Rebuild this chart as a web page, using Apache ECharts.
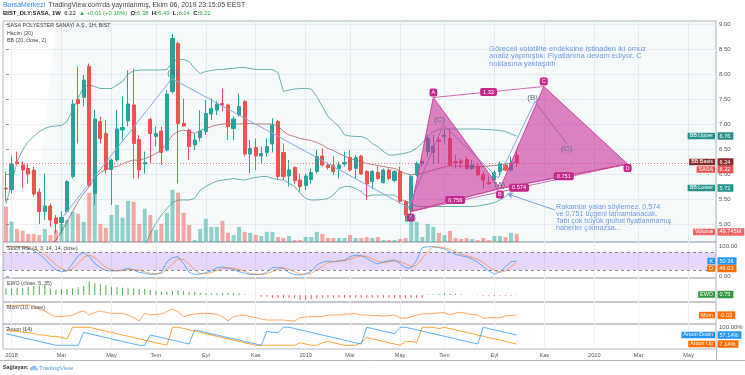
<!DOCTYPE html>
<html><head><meta charset="utf-8">
<script src="https://cdn.jsdelivr.net/npm/echarts@6/dist/echarts.min.js"></script>
<style>html,body{margin:0;padding:0;background:#fff}#c{width:745px;height:375px}</style>
</head><body><div id="c"></div><script>
// ---------------- DATA ----------------
const startDate = [2017, 11, 25]; // week of first candle (Monday)
const monthNames = ['Oca','Şub','Mar','Nis','May','Haz','Tem','Ağu','Eyl','Eki','Kas','Ara'];
const priceTicks = [5.0,5.5,6.0,6.5,7.0,7.5,8.0,8.5,9.0];

const opens = [5.72,5.69,6.24,6.18,6.11,6.08,5.64,5.25,5.36,5.12,
 5.03,5.25,5.95,7.49,7.53,8.15,5.61,7.05,6.81,6.09,
 6.28,6.88,7.06,7.38,6.69,6.20,7.09,6.75,6.86,6.48,
 7.65,8.61,7.01,6.88,6.58,6.73,6.85,7.20,7.28,7.41,
 7.38,6.91,7.18,7.45,6.40,6.53,6.36,6.43,6.60,7.05,
 6.43,5.96,6.13,5.88,5.77,5.89,6.05,6.36,6.18,6.18,
 6.11,6.20,6.33,6.11,6.36,6.05,5.85,6.03,5.83,6.08,
 5.87,6.05,5.45,5.28,5.98,6.21,6.45,6.43,6.68,6.75,
 6.71,6.25,6.26,6.29,6.11,6.15,5.99,5.83,5.88,6.05,
 6.18,6.08,6.38];
const highs = [6.05,6.36,6.45,6.25,6.20,6.15,5.71,6.01,5.41,5.18,
 5.25,5.88,7.48,8.15,7.98,8.21,7.28,7.15,7.08,6.31,
 7.28,7.55,8.08,8.11,6.78,6.45,7.13,6.95,6.95,7.68,
 8.80,8.65,7.51,6.91,6.81,7.28,7.48,7.51,7.45,7.71,
 7.41,7.15,7.61,7.48,6.68,6.71,6.55,6.71,7.11,7.08,
 6.61,6.28,6.15,6.01,6.01,6.11,6.48,6.51,6.23,6.36,
 6.25,6.45,6.48,6.38,6.38,6.08,6.08,6.15,6.11,6.11,
 6.08,6.15,5.48,5.98,6.25,6.31,6.78,6.78,6.75,6.88,
 6.91,6.38,6.30,6.35,6.28,6.21,6.05,5.95,6.08,6.25,
 6.21,6.35,6.49];
const lows = [5.45,5.61,6.18,5.71,5.81,5.55,5.00,5.08,4.95,4.81,
 4.81,5.21,5.91,6.61,7.35,5.75,5.38,6.61,6.01,5.38,
 6.25,6.68,6.95,5.91,5.91,6.01,6.21,6.55,6.18,6.45,
 7.61,5.81,6.95,6.28,6.48,6.65,6.78,7.08,7.18,7.25,
 6.68,6.68,7.15,6.35,6.01,6.08,6.21,6.35,6.43,5.88,
 5.88,5.75,5.81,5.65,5.68,5.81,6.01,6.15,6.09,5.98,
 5.91,6.15,6.05,5.91,5.98,5.48,5.71,5.88,5.81,5.88,
 5.83,5.41,5.05,5.21,5.95,6.15,6.35,6.21,6.21,6.61,
 6.15,6.11,6.11,6.08,6.08,5.95,5.71,5.78,5.81,5.95,
 6.05,6.05,6.14];
const closes = [5.70,6.20,6.21,6.08,6.00,5.60,5.25,5.36,5.08,5.01,
 5.13,5.85,7.40,7.41,7.88,5.77,7.10,6.71,6.09,6.28,
 6.90,6.93,7.40,6.61,6.08,6.23,6.81,6.81,6.43,7.60,
 8.71,7.01,6.96,6.55,6.68,6.86,7.21,7.31,7.40,7.38,
 6.95,7.10,7.35,6.40,6.51,6.36,6.41,6.55,6.98,5.95,
 5.95,6.08,5.87,5.75,5.96,6.03,6.35,6.18,6.13,6.05,
 6.18,6.23,6.08,6.33,6.00,5.80,6.05,5.91,6.08,5.91,
 6.05,5.45,5.18,5.95,6.21,6.25,6.71,6.55,6.65,6.78,
 6.18,6.23,6.23,6.11,6.18,5.98,5.88,5.80,6.03,6.20,
 6.08,6.21,6.22];
const volumes = [219,126,81,70,50,50,43,81,43,74,
 112,136,186,174,124,304,304,112,87,167,
 229,149,254,248,112,205,167,74,112,180,
 322,304,180,105,12,81,143,93,93,130,
 56,43,93,62,56,43,37,62,62,31,
 25,37,12,12,31,31,62,50,25,25,
 25,25,43,25,25,31,25,31,12,12,
 12,19,25,136,124,31,112,93,56,43,
 68,25,19,25,19,12,25,12,37,37,
 31,56,49.745];
const bbUpper = [5.40,5.81,6.25,6.48,6.65,6.75,6.85,6.91,6.95,6.96,
 6.97,7.05,7.28,7.51,7.75,7.78,7.75,7.71,7.71,7.71,
 7.78,7.85,8.00,8.06,8.08,8.08,8.08,8.08,8.08,8.09,
 8.25,8.29,8.29,8.25,8.11,8.01,8.05,8.07,8.09,8.09,
 8.11,8.11,8.13,8.13,8.11,8.09,8.09,8.09,8.09,8.03,
 7.65,7.68,7.70,7.71,7.71,7.70,7.55,7.35,7.15,7.05,
 6.95,6.78,6.76,6.75,6.75,6.71,6.61,6.55,6.45,6.38,
 6.38,6.40,6.42,6.45,6.52,6.62,6.75,6.85,6.89,6.90,
 6.90,6.90,6.90,6.90,6.90,6.90,6.89,6.89,6.88,6.87,
 6.85,6.80,6.76];
const bbBasis = [3.60,3.75,3.90,4.05,4.20,4.30,4.40,4.50,4.58,4.68,
 4.85,5.05,5.25,5.45,5.61,5.75,5.91,6.03,6.09,6.13,
 6.15,6.20,6.25,6.28,6.27,6.31,6.35,6.41,6.48,6.61,
 6.78,6.85,6.88,6.85,6.81,6.87,6.91,6.95,6.98,7.00,
 7.01,7.00,7.00,7.01,7.01,7.00,7.00,7.00,7.00,6.96,
 6.85,6.78,6.75,6.71,6.69,6.67,6.63,6.58,6.51,6.47,
 6.41,6.36,6.31,6.28,6.25,6.21,6.19,6.17,6.15,6.13,
 6.11,6.06,6.01,5.98,6.00,6.01,6.05,6.08,6.11,6.14,
 6.16,6.16,6.16,6.15,6.15,6.15,6.15,6.16,6.17,6.18,
 6.20,6.22,6.24];
const bbLower = [1.80,1.69,1.55,1.62,1.75,1.85,1.95,2.09,2.21,2.40,
 2.73,3.05,3.22,3.39,3.47,3.72,4.07,4.35,4.47,4.55,
 4.52,4.55,4.50,4.50,4.46,4.54,4.81,5.01,5.18,5.31,
 5.43,5.48,5.48,5.48,5.51,5.68,5.75,5.81,5.86,5.88,
 5.89,5.91,5.89,5.88,5.91,5.93,5.95,5.95,5.91,5.89,
 5.88,5.81,5.75,5.61,5.51,5.48,5.48,5.49,5.51,5.58,
 5.71,5.75,5.75,5.71,5.65,5.55,5.58,5.58,5.58,5.58,
 5.58,5.50,5.45,5.40,5.36,5.35,5.35,5.35,5.35,5.35,
 5.35,5.35,5.35,5.35,5.35,5.36,5.38,5.40,5.43,5.48,
 5.55,5.64,5.72];
const stochK = [100,100,100,98,93,87,73,58,37,20,
 14,17,42,68,80,65,42,28,18,17,
 17,20,26,20,12,9,5,6,12,48,
 62,65,42,12,5,6,11,17,28,30,
 26,22,14,9,5,5,5,12,28,29,
 26,11,5,3,8,14,37,46,51,48,
 51,54,65,71,68,59,48,40,48,51,
 54,42,28,26,54,96,99,99,96,91,
 82,73,68,65,57,46,31,17,6,14,
 31,48,50.36];
const stochD = [100,100,100,99,96,92,84,72,56,38,
 24,17,24,42,63,71,62,45,29,21,
 17,18,21,22,19,14,9,7,8,22,
 41,58,56,40,20,8,7,11,19,25,
 28,26,21,15,9,6,5,7,15,23,
 28,22,14,6,5,8,20,32,45,48,
 50,51,57,63,68,66,58,49,45,48,
 51,49,41,32,36,59,83,98,98,95,
 90,82,74,69,63,56,45,31,18,12,
 17,31,46.03];
const ewo = [10,10,11,11,12.5,13.5,14,15,10,7.5,
 9,9,10,11.5,14,20,17.5,16,15,12.5,
 11.5,11,11,10,9,9,7.5,6,5,5,
 6,7,6,5,5,3.5,2.5,2.5,2.5,3.5,
 3.5,2.5,2.5,1,0.3,-0.5,-2.5,-2.5,-4,-4,
 -4,-4,-5,-7.5,-7.5,-6,-5,-4,-4,-4,
 -4,-4,-4,-4,-4,-4,-4,-4,-4,-4,
 -4,-5,-5,-4,-4,-4,1,1,2,3,
 2,2,1,0.3,0.3,-0.5,-1,-1,-1.5,-1,
 -1,-1,0.75];
const mom = [2.8,2.8,2.8,2.9,3.0,2.5,1.8,1.2,0.2,-0.5,
 -0.5,-0.3,0,0.8,1.2,0,0.8,1.2,0.8,0.5,
 0.5,0.5,0,-0.8,-1.8,0.5,0,0.2,0.3,1.0,
 1.8,1.0,-0.5,0,0.3,0.4,0.5,0.4,0.2,-0.5,
 -1.8,-0.5,-0.2,0,-0.5,-0.8,-1.2,-1.5,-1.5,-1.5,
 -1.5,-1.7,-1.8,-0.8,-0.6,-0.5,-0.5,-0.4,0,0,
 0,0.2,0.3,0.4,0,0,-0.2,-0.2,-0.3,-0.2,
 0,-0.8,-1.0,-0.5,0,0.3,0.4,0.5,0.6,0.7,
 0,0.6,0.8,0.4,0.2,0,-1.0,-0.8,-0.8,-0.8,
 -0.3,-0.1,-0.03];
const aroonUp = [85.71,78.57,78.57,71.43,71.43,64.29,57.14,57.14,50,50,42.86,35.71,
 100,100,100,100,
 92.86,85.71,78.57,71.43,64.29,57.14,50,42.86,35.71,28.57,21.43,14.29,7.14,0,
 100,100,
 92.86,85.71,78.57,71.43,64.29,57.14,50,42.86,35.71,28.57,21.43,14.29,7.14,0,
 0,0,0,0,0,0,0,14.29,7.14,0,0,14.29,21.43,14.29,7.14,0,0,0,14.29,
 42.86,35.71,28.57,21.43,14.29,7.14,0,21.43,21.43,14.29,
 100,100,100,92.86,100,
 92.86,85.71,78.57,71.43,64.29,57.14,50,42.86,35.71,28.57,21.43,14.29,7.14];
const aroonDown = [64.29,57.14,50,42.86,35.71,28.57,21.43,14.29,7.14,0,
 0,0,0,0,
 71.43,64.29,57.14,50,42.86,35.71,28.57,21.43,14.29,7.14,0,
 0,
 57.14,50,42.86,35.71,28.57,21.43,14.29,7.14,
 85.71,78.57,71.43,64.29,57.14,50,42.86,35.71,28.57,21.43,14.29,7.14,0,
 78.57,71.43,71.43,
 100,100,92.86,85.71,78.57,71.43,64.29,57.14,50,42.86,35.71,28.57,21.43,14.29,7.14,
 100,92.86,85.71,78.57,71.43,64.29,
 100,100,92.86,85.71,78.57,71.43,64.29,57.14,50,42.86,35.71,28.57,21.43,14.29,7.14,
 100,92.86,85.71,78.57,71.43,64.29,57.14];

// Drawings (week index, price)
const patternNames = ['X','A','B','C','D'];
const patternIdx   = [72.9, 77.0, 89.0, 96.9, 112.0];
const patternPrice = [5.25, 7.53, 5.71, 7.75, 6.20];
const ratioPairs   = [[0,2],[1,3],[0,4],[2,4]];
const ratioLabels  = ['0.756','1.32','0.574','0.751'];
const wave1 = [[10.3,5.15],[29.9,7.91],[72.5,5.33]];
const wave2 = [[72.5,5.33],[78.8,6.98],[88.7,5.92],[95.3,7.45],[101.0,6.61]];
const waveLabels = ['(A)','(X)','(C)','(A)','(B)','(C)'];
const waveLabelIdx = [30.0, 72.9, 78.1, 89.0, 94.9, 101.0];
const waveLabelPrice = [8.03, 5.12, 7.09, 5.78, 7.53, 6.51];
const arrowFrom = [98.9, 5.28], arrowTo = [90.4, 5.60];

// ---------------- CHART ----------------
const FONT = '"Liberation Sans", Arial, sans-serif';
const UP = '#26a69a', DOWN = '#ef5350';
const N = closes.length;
const idx = Array.from({length:N}, (_, i) => i);
const X_MIN = -0.54, X_MAX = 127.93;

const monthTicks = [], monthLabelMap = {};
const d0 = Date.UTC(startDate[0], startDate[1], startDate[2]);
for (let i = 0; i <= 127; i++) {
  const d = new Date(d0 + i * 7 * 864e5), p = new Date(d0 + (i - 1) * 7 * 864e5);
  if (d.getUTCMonth() !== p.getUTCMonth() && d.getUTCMonth() % 2 === 0) {
    monthTicks.push(i);
    monthLabelMap[i] = d.getUTCMonth() === 0 ? String(d.getUTCFullYear()) : monthNames[d.getUTCMonth()];
  }
}

function xAx(gi, showLabels) {
  return {type:'value', gridIndex:gi, min:X_MIN, max:X_MAX,
    axisLine:{show:false}, axisTick:{show:false, customValues:monthTicks},
    axisLabel:{show:showLabels, customValues:monthTicks, formatter:v => monthLabelMap[Math.round(v)] || '',
      fontSize:5.6, color:'#555', margin:3.5, fontFamily:FONT},
    splitLine:{show:true, lineStyle:{color:'#eef1f6', width:1}}};
}
const gridBase = {left:3, right:29, show:true, borderColor:'#b2b5be', borderWidth:1, backgroundColor:'transparent', outerBoundsMode:'none'};
const axLbl = {fontSize:6, color:'#555', margin:3, fontFamily:FONT};

const option = {
  animation:false,
  backgroundColor:'#ffffff',
  textStyle:{fontFamily:FONT},
  grid:[
    Object.assign({top:21, height:221}, gridBase),
    Object.assign({top:242, height:36}, gridBase),
    Object.assign({top:278, height:24}, gridBase),
    Object.assign({top:302, height:22}, gridBase),
    Object.assign({top:324, height:25}, gridBase)
  ],
  xAxis:[xAx(0,false), xAx(1,false), xAx(2,false), xAx(3,false), xAx(4,true)],
  yAxis:[
    {type:'value', gridIndex:0, position:'right', min:4.64, max:9.06, scale:true,
      axisLine:{show:false}, axisTick:{show:true, length:3, lineStyle:{color:'#9598a1'}, customValues:priceTicks},
      axisLabel:Object.assign({customValues:priceTicks, formatter:v => v.toFixed(2)}, axLbl),
      splitLine:{show:true, lineStyle:{color:'#eef1f6'}}},
    {type:'value', gridIndex:0, min:0, max:1364, show:false, splitLine:{show:false}},
    {type:'value', gridIndex:1, position:'right', min:-7.1, max:114.9,
      axisLine:{show:false}, axisTick:{show:true, length:3, lineStyle:{color:'#9598a1'}, customValues:[0,100]},
      axisLabel:Object.assign({customValues:[0,100], formatter:v => v.toFixed(2)}, axLbl),
      splitLine:{show:false}},
    {type:'value', gridIndex:2, min:-10.5, max:25.5, show:false, splitLine:{show:false}},
    {type:'value', gridIndex:3, min:-2.7, max:3.9, show:false, splitLine:{show:false}},
    {type:'value', gridIndex:4, position:'right', min:-20.6, max:118.3,
      axisLine:{show:false}, axisTick:{show:true, length:3, lineStyle:{color:'#9598a1'}, customValues:[100]},
      axisLabel:Object.assign({customValues:[100], formatter:v => v.toFixed(2) + '%'}, axLbl),
      splitLine:{show:false}}
  ],
  series:[
    {type:'line', xAxisIndex:0, yAxisIndex:0, stack:'bb', symbol:'none', silent:true, z:1,
      lineStyle:{opacity:0}, data:idx.map(i => [i, bbLower[i]])},
    {type:'line', xAxisIndex:0, yAxisIndex:0, stack:'bb', symbol:'none', silent:true, z:1,
      lineStyle:{opacity:0}, areaStyle:{color:'rgba(38,150,140,0.06)'},
      data:idx.map(i => [i, +(bbUpper[i] - bbLower[i]).toFixed(3)])},
    {type:'bar', xAxisIndex:0, yAxisIndex:1, barWidth:4, silent:true, z:2,
      data:idx.map(i => ({value:[i, volumes[i]], itemStyle:{color: closes[i] >= opens[i] ? 'rgba(38,166,154,0.5)' : 'rgba(239,83,80,0.5)'}}))},
    {type:'line', xAxisIndex:0, yAxisIndex:0, symbol:'none', silent:true, z:3,
      lineStyle:{color:'rgba(30,140,132,0.65)', width:1}, data:idx.map(i => [i, bbUpper[i]])},
    {type:'line', xAxisIndex:0, yAxisIndex:0, symbol:'none', silent:true, z:3,
      lineStyle:{color:'rgba(30,140,132,0.65)', width:1}, data:idx.map(i => [i, bbLower[i]])},
    {type:'line', xAxisIndex:0, yAxisIndex:0, symbol:'none', silent:true, z:3,
      lineStyle:{color:'rgba(135,35,35,0.55)', width:1}, data:idx.map(i => [i, bbBasis[i]])},
    {type:'candlestick', xAxisIndex:0, yAxisIndex:0, barWidth:3.6, z:4, silent:true,
      itemStyle:{color:UP, color0:DOWN, borderColor:UP, borderColor0:DOWN, borderWidth:1},
      data:idx.map(i => [i, opens[i], closes[i], lows[i], highs[i]]),
      markLine:{silent:true, symbol:'none', label:{show:false},
        lineStyle:{color:'#ef5350', type:[1,2], width:1, opacity:0.75},
        data:[{yAxis:closes[N-1]}]}},
    {type:'line', xAxisIndex:0, yAxisIndex:0, symbol:'none', silent:true, z:5,
      lineStyle:{color:'#86a9e3', width:1}, data:wave1,
      markLine:{silent:true, symbol:['none','arrow'], symbolSize:5, label:{show:false},
        lineStyle:{color:'#7a9de0', type:'solid', width:1},
        data:[[{coord:arrowFrom}, {coord:arrowTo}]]}},
    {type:'line', xAxisIndex:0, yAxisIndex:0, symbol:'none', silent:true, z:5,
      lineStyle:{color:'#86a9e3', width:1}, data:wave2},
    {type:'custom', xAxisIndex:0, yAxisIndex:0, z:6, silent:true,
      data:[[patternIdx[0], patternPrice[0]]],
      renderItem:(params, api) => {
        const P = patternIdx.map((x, k) => api.coord([x, patternPrice[k]]));
        const fill = 'rgba(200,40,150,0.58)', stroke = '#d0439f', box = '#c4278e';
        const ch = [];
        ch.push({type:'polygon', shape:{points:[P[0], P[1], P[2]]}, style:{fill, stroke, lineWidth:1}});
        ch.push({type:'polygon', shape:{points:[P[2], P[3], P[4]]}, style:{fill, stroke, lineWidth:1}});
        ratioPairs.forEach(([a, b]) => {
          ch.push({type:'line', shape:{x1:P[a][0], y1:P[a][1], x2:P[b][0], y2:P[b][1]}, style:{stroke, lineWidth:1, opacity:0.8}});
        });
        ratioPairs.forEach(([a, b], k) => {
          ch.push({type:'text', x:(P[a][0] + P[b][0]) / 2, y:(P[a][1] + P[b][1]) / 2,
            style:{text:ratioLabels[k], fill:'#fff', fontSize:5.6, fontFamily:FONT, backgroundColor:box,
              padding:[1,3,1,3], borderRadius:2, align:'center', verticalAlign:'middle'}});
        });
        const dy = [6, -5, 6, -5, 4];
        patternNames.forEach((n, k) => {
          ch.push({type:'text', x:P[k][0], y:P[k][1] + dy[k],
            style:{text:n, fill:'#fff', fontSize:5.6, fontFamily:FONT, backgroundColor:box,
              padding:[1,2,1,2], borderRadius:2, align:'center', verticalAlign:'middle'}});
        });
        waveLabels.forEach((t, k) => {
          const c = api.coord([waveLabelIdx[k], waveLabelPrice[k]]);
          ch.push({type:'text', x:c[0], y:c[1], style:{text:t, fill:'#5a6b8f', fontSize:8, fontFamily:FONT,
            align:'center', verticalAlign:'middle'}});
        });
        return {type:'group', children:ch};
      }},
    {type:'line', xAxisIndex:1, yAxisIndex:2, symbol:'none', silent:true, z:3,
      lineStyle:{color:'#2196f3', width:1, opacity:0.7}, data:idx.map(i => [i, stochK[i]]),
      markArea:{silent:true, itemStyle:{color:'rgba(147,71,230,0.22)'}, data:[[{yAxis:20}, {yAxis:80}]]}},
    {type:'line', xAxisIndex:1, yAxisIndex:2, symbol:'none', silent:true, z:3,
      lineStyle:{color:'#ff6d00', width:1, opacity:0.55}, data:idx.map(i => [i, stochD[i]]),
      markLine:{silent:true, symbol:'none', label:{show:false},
        lineStyle:{color:'#8a8a8a', type:[3,3], width:1}, data:[{yAxis:80}, {yAxis:20}]}},
    {type:'bar', xAxisIndex:2, yAxisIndex:3, barWidth:1, silent:true,
      data:idx.map(i => ({value:[i, ewo[i]], itemStyle:{color: ewo[i] >= 0 ? '#4caf50' : '#f05454'}}))},
    {type:'line', xAxisIndex:3, yAxisIndex:4, symbol:'none', silent:true,
      lineStyle:{color:'#ff8f3a', width:1, opacity:0.8}, data:idx.map(i => [i, mom[i]])},
    {type:'line', xAxisIndex:4, yAxisIndex:5, symbol:'none', silent:true,
      lineStyle:{color:'#fb8c00', width:1, opacity:0.8}, data:idx.map(i => [i, aroonUp[i]])},
    {type:'line', xAxisIndex:4, yAxisIndex:5, symbol:'none', silent:true,
      lineStyle:{color:'#2196f3', width:1, opacity:0.75}, data:idx.map(i => [i, aroonDown[i]])}
  ]
};

const chart = echarts.init(document.getElementById('c'), null, {renderer:'canvas'});
chart.setOption(option);

// ---------- overlay texts ----------
const T = (x, y, text, opt) => ({type:'text', x, y, z:100, silent:true,
  style:Object.assign({text, fill:'#333', fontSize:7, fontFamily:FONT, verticalAlign:'middle'}, opt || {})});
const yPx = (ax, v) => chart.convertToPixel({yAxisIndex:ax}, v);

function sideLabels(items) {
  items.sort((a, b) => a.y - b.y);
  for (let k = 1; k < items.length; k++) if (items[k].y - items[k-1].y < 7.5) items[k].y = items[k-1].y + 7.5;
  const out = [];
  items.forEach(it => {
    out.push(T(715, it.y, it.name, {fill:'#fff', fontSize:5.4, backgroundColor:it.color, padding:[1,2,0.5,2], align:'right'}));
    out.push(T(717.5, it.y, it.val, {fill:'#fff', fontSize:5.6, backgroundColor:it.color, padding:[1,3,0.5,2], align:'left'}));
  });
  return out;
}
const L = N - 1;
let g = [];
g = g.concat(sideLabels([
  {y:yPx(0, bbUpper[L]), name:'BB:Upper', val:bbUpper[L].toFixed(2), color:'#22928a'},
  {y:yPx(0, bbBasis[L]), name:'BB:Basis', val:bbBasis[L].toFixed(2), color:'#8a2b2b'},
  {y:yPx(0, closes[L]), name:'SASA', val:closes[L].toFixed(2), color:'#ef5350'},
  {y:yPx(0, bbLower[L]), name:'BB:Lower', val:bbLower[L].toFixed(2), color:'#22928a'}
]));
g = g.concat(sideLabels([{y:yPx(1, volumes[L]) - 2, name:'Volume', val:volumes[L].toFixed(3) + 'M', color:'#f26466'}]));
g = g.concat(sideLabels([
  {y:yPx(2, stochK[L]), name:'K', val:stochK[L].toFixed(2), color:'#2196f3'},
  {y:yPx(2, stochD[L]), name:'D', val:stochD[L].toFixed(2), color:'#ff6d00'}
]));
g = g.concat(sideLabels([{y:yPx(3, ewo[L]), name:'EWO', val:ewo[L].toFixed(2), color:'#2e9b3c'}]));
g = g.concat(sideLabels([{y:yPx(4, mom[L]), name:'Mom', val:mom[L].toFixed(2), color:'#ff6d00'}]));
g = g.concat(sideLabels([
  {y:yPx(5, aroonDown[L]), name:'Aroon Down', val:aroonDown[L].toFixed(2) + '%', color:'#2196f3'},
  {y:yPx(5, aroonUp[L]), name:'Aroon Up', val:aroonUp[L].toFixed(2) + '%', color:'#ff6d00'}
]));

// header
g.push({type:'text', x:3, y:5, z:100, silent:true, style:{text:'{a|BorsaMerkezi} {b|TradingView.com\'da yayınlanmış, Ekim 06, 2019 23:15:05 EEST}',
  verticalAlign:'middle', rich:{a:{fill:'#2e8ce6', fontSize:6.9, fontFamily:FONT}, b:{fill:'#444', fontSize:6.9, fontFamily:FONT}}}});
g.push({type:'text', x:3, y:13.5, z:100, silent:true, style:{text:'{k|BIST_DLY:SASA, 1W} {n|6.22} {g|▲ +0.01 (+0.16%)} {k|O:}{g|6.38} {k|H:}{g|6.49} {k|L:}{g|6.14} {k|C:}{g|6.22}',
  verticalAlign:'middle', rich:{k:{fill:'#222', fontSize:5.9, fontWeight:'bold', fontFamily:FONT}, n:{fill:'#222', fontSize:5.9, fontFamily:FONT}, g:{fill:'#2ea84a', fontSize:5.9, fontFamily:FONT}}}});
// pane legends
const LEG = {fill:'#444', fontSize:5.3};
g.push(T(7, 26, 'SASA POLYESTER SANAYİ A.Ş., 1H, BIST', {fill:'#333', fontSize:5.3}));
g.push(T(7, 33.5, 'Hacim (20)', LEG));
g.push(T(7, 41, 'BB (20, close, 2)', LEG));
g.push(T(7, 248.5, 'Stoch RSI (3, 3, 14, 14, close)', LEG));
g.push(T(7, 284, 'EWO (close, 5, 35)', LEG));
g.push(T(7, 307.5, 'Mom (10, close)', LEG));
g.push(T(7, 330, 'Aroon (14)', LEG));
// comments
g.push({type:'text', x:489, y:45, z:100, silent:true, style:{text:'Göreceli volatilite endeksine istinaden iki omuz\nanaliz yapmıştık. Fiyatlanma devam ediyor. C\nnoktasına yaklaşıldı',
  fill:'#6e99e6', fontSize:7.6, lineHeight:7.6, fontFamily:FONT, verticalAlign:'top'}});
g.push({type:'text', x:556, y:203, z:100, silent:true, style:{text:'Rakamlar yalan söylemez. 0,574\nve 0,751 üçgeni tamamlanacak.\nTabi çok büyük global fiyatlanmamış\nhaberler çıkmazsa...',
  fill:'#6e99e6', fontSize:7.2, lineHeight:7.1, fontFamily:FONT, verticalAlign:'top'}});
// frame bits
g.push({type:'line', z:50, silent:true, shape:{x1:716.5, y1:349, x2:716.5, y2:360}, style:{stroke:'#b2b5be', lineWidth:1}});
g.push({type:'line', z:50, silent:true, shape:{x1:0, y1:360.5, x2:745, y2:360.5}, style:{stroke:'#b2b5be', lineWidth:1}});
// footer
g.push(T(3, 368, 'Sağlayan:', {fill:'#333', fontSize:5.4, fontWeight:'bold'}));
g.push({type:'circle', z:100, silent:true, shape:{cx:34, cy:367.8, r:2.4}, style:{fill:'#8fc3ef'}});
g.push({type:'circle', z:100, silent:true, shape:{cx:31.5, cy:368.8, r:1.7}, style:{fill:'#8fc3ef'}});
g.push({type:'circle', z:100, silent:true, shape:{cx:36.3, cy:368.9, r:1.5}, style:{fill:'#8fc3ef'}});
g.push(T(39, 368, 'TradingView', {fill:'#4a9be0', fontSize:6.2}));

chart.setOption({graphic:g});
</script></body></html>
